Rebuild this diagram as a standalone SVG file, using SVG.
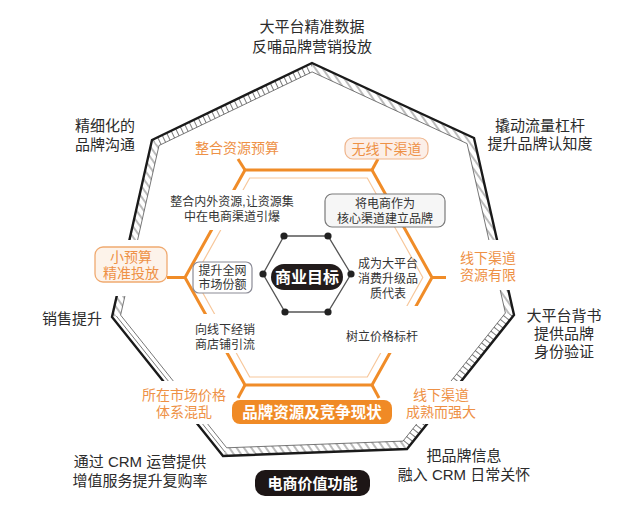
<svg xmlns="http://www.w3.org/2000/svg" width="640" height="521" viewBox="0 0 640 521">
<style>
.t{font-family:"Liberation Sans","Noto Sans CJK SC",sans-serif;dominant-baseline:central;text-anchor:middle}
.blk{fill:#2b2b2b;font-size:15px}
.in{fill:#333;font-size:12px}
.or{fill:#ee9146;font-size:14px}
.wb{fill:#fff;font-weight:bold}
.hatch{stroke:#555;stroke-width:0.8}
.bg{fill:#fff}
</style>
<defs>
<pattern id="ladGA" width="5" height="10" patternUnits="userSpaceOnUse" patternTransform="rotate(-25.7)"><path class="hatch" d="M2.5,0V10"/></pattern>
<pattern id="ladCD" width="5" height="10" patternUnits="userSpaceOnUse" patternTransform="rotate(128.6)"><path class="hatch" d="M2.5,0V10"/></pattern>
<pattern id="diag" width="6" height="10" patternUnits="userSpaceOnUse" patternTransform="rotate(-35)"><path class="hatch" d="M3,0V10"/></pattern>
</defs>
<rect width="640" height="521" fill="#fff"/>
<g id="frame">
<polygon points="152,140 312,63 312.1,71.9 159,145.5" fill="url(#ladGA)"/>
<polygon points="312,63 474,138 467.1,143.6 312.1,71.9" fill="url(#diag)"/>
<polygon points="474,138 514,315 505.4,313 467.1,143.6" fill="url(#diag)"/>
<polygon points="514,315 407,449 403,441.1 505.4,313" fill="url(#ladCD)"/>
<polygon points="407,449 223,456 226.7,447.8 403,441.1" fill="url(#diag)"/>
<polygon points="112,317 152,140 159,145.5 120.6,315.1" fill="url(#diag)"/>
<line x1="224.9" y1="451.9" x2="116.3" y2="316" stroke="#555" stroke-width="0.8"/>
<polygon points="312,63 474,138 514,315 407,449 223,456 112,317 152,140" fill="none" stroke="#1a1a1a" stroke-width="2.4" stroke-linejoin="miter"/>
<polygon points="312.1,71.9 467.1,143.6 505.4,313 403,441.1 226.7,447.8 120.6,315.1 159,145.5" fill="none" stroke="#555" stroke-width="0.8"/>
<rect class="bg" x="88" y="240" width="86" height="56"/>
<rect class="bg" x="452" y="240" width="70" height="50"/>
<rect class="bg" x="136" y="381" width="96" height="43"/>
<rect class="bg" x="400" y="381" width="84" height="43"/>
</g>
<g id="connectors">
<path d="M249.7,178 H367.3 L422.8,277.5 L367.3,377 H249.7 L194.2,277.5 Z" fill="none" stroke="#f7c79b" stroke-width="1.2"/>
<path d="M245,170 H372 L432,277.5 L372,385 H245 L185,277.5 Z" fill="none" stroke="#f08c28" stroke-width="3" stroke-linejoin="miter"/>
<g stroke="#f08c28" stroke-width="3" stroke-linecap="butt">
<line x1="245" y1="170" x2="238" y2="159"/>
<line x1="372" y1="170" x2="378" y2="159"/>
<line x1="185" y1="277.5" x2="167" y2="277.5"/>
<line x1="432" y1="277.5" x2="446" y2="277.5"/>
<line x1="372" y1="385" x2="379" y2="398"/>
<line x1="245" y1="385" x2="238" y2="398"/>
</g>
<path d="M284,236 H328 L351,274 L328,312 H285 L263,274 Z" fill="none" stroke="#555" stroke-width="1.3"/>
<g fill="#222">
<circle cx="284" cy="236" r="3.6"/><circle cx="328" cy="236" r="3.6"/>
<circle cx="351" cy="274" r="3.6"/><circle cx="328" cy="312" r="3.6"/>
<circle cx="285" cy="312" r="3.6"/><circle cx="263" cy="274" r="3.6"/>
</g>
</g>
<g id="text-bgs">
<rect class="bg" x="168" y="190" width="130" height="40"/>
<rect class="bg" x="192" y="314" width="67" height="39"/>
<rect class="bg" x="344" y="306" width="78" height="47"/>
</g>
<g id="n-top"><text class="t blk"><tspan x="312" y="26">大平台精准数据</tspan><tspan x="312" y="46">反哺品牌营销投放</tspan></text></g>
<g id="n-tl"><text class="t blk"><tspan x="105" y="125">精细化的</tspan><tspan x="105" y="144">品牌沟通</tspan></text></g>
<g id="n-tr"><text class="t blk"><tspan x="540" y="125">撬动流量杠杆</tspan><tspan x="540" y="143">提升品牌认知度</tspan></text></g>
<g id="n-l"><text class="t blk" x="72" y="318">销售提升</text></g>
<g id="n-r"><text class="t blk"><tspan x="564" y="315">大平台背书</tspan><tspan x="564" y="333">提供品牌</tspan><tspan x="564" y="351">身份验证</tspan></text></g>
<g id="n-bl"><text class="t blk"><tspan x="140" y="461">通过 CRM 运营提供</tspan><tspan x="140" y="480">增值服务提升复购率</tspan></text></g>
<g id="n-br"><text class="t blk"><tspan x="464" y="455">把品牌信息</tspan><tspan x="464" y="474">融入 CRM 日常关怀</tspan></text></g>
<g id="n-bottom"><rect x="255" y="470" width="115" height="26" rx="10" fill="#1d1616"/><text class="t wb" x="312.5" y="483" font-size="15">电商价值功能</text></g>
<g id="n-center"><rect x="271" y="264" width="72" height="26" rx="13" fill="#221c1c"/><text class="t wb" x="307" y="277" font-size="16">商业目标</text></g>
<g id="o-tl"><text class="t or" x="237" y="148">整合资源预算</text></g>
<g id="o-tr"><rect x="345" y="138" width="83" height="21" rx="8" fill="#fcefe8" stroke="#efb58c" stroke-width="1.2"/><text class="t or" x="386.5" y="148.5">无线下渠道</text></g>
<g id="o-l"><rect x="95" y="247" width="72" height="35" rx="8" fill="#fdf3ea" stroke="#f0aa70" stroke-width="1.3"/><text class="t or"><tspan x="131" y="257">小预算</tspan><tspan x="131" y="273">精准投放</tspan></text></g>
<g id="o-r"><text class="t or"><tspan x="488" y="258">线下渠道</tspan><tspan x="488" y="275">资源有限</tspan></text></g>
<g id="o-bl"><text class="t or"><tspan x="184" y="395">所在市场价格</tspan><tspan x="184" y="412">体系混乱</tspan></text></g>
<g id="o-br"><text class="t or"><tspan x="441" y="395">线下渠道</tspan><tspan x="441" y="412">成熟而强大</tspan></text></g>
<g id="o-bottom"><rect x="232" y="400" width="160" height="24" rx="8" fill="#f08a25"/><text class="t wb" x="312" y="412" font-size="15.5">品牌资源及竞争现状</text></g>
<g id="i-tl"><text class="t in"><tspan x="232" y="202">整合内外资源,让资源集</tspan><tspan x="232" y="217">中在电商渠道引爆</tspan></text></g>
<g id="i-tr"><rect x="325" y="194" width="120" height="33" rx="7" fill="#f6f6f6" stroke="#7a7a7a" stroke-width="1.2"/><text class="t in"><tspan x="385" y="203.5">将电商作为</tspan><tspan x="385" y="218.5">核心渠道建立品牌</tspan></text></g>
<g id="i-l"><rect x="193" y="262" width="59" height="31" rx="6" fill="#fff" stroke="#8b8b96" stroke-width="1.2"/><text class="t in"><tspan x="222.5" y="270.5">提升全网</tspan><tspan x="222.5" y="285">市场份额</tspan></text></g>
<g id="i-r"><text class="t in"><tspan x="388" y="264">成为大平台</tspan><tspan x="388" y="279">消费升级品</tspan><tspan x="388" y="294">质代表</tspan></text></g>
<g id="i-bl"><text class="t in"><tspan x="225" y="330">向线下经销</tspan><tspan x="225" y="345">商店铺引流</tspan></text></g>
<g id="i-br"><text class="t in" x="382" y="337">树立价格标杆</text></g>
</svg>
